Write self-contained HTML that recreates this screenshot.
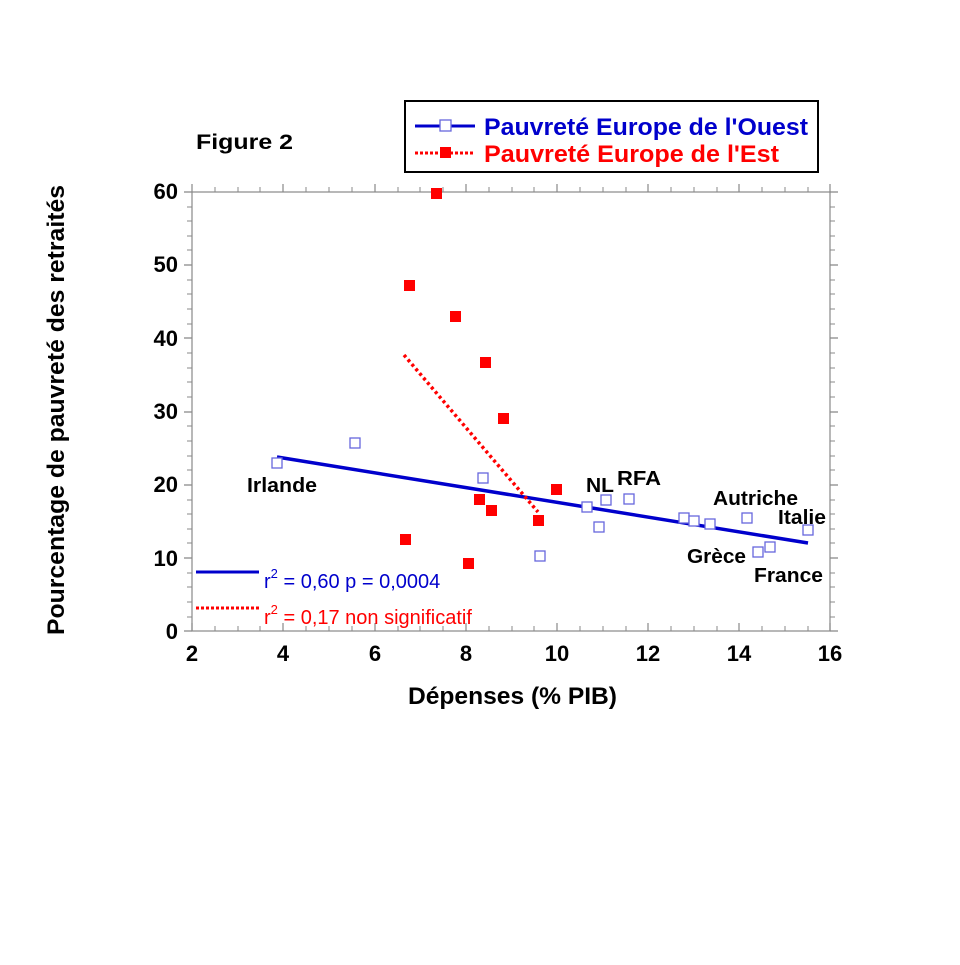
<!DOCTYPE html>
<html><head><meta charset="utf-8"><style>body{margin:0;background:#fff}</style></head><body>
<svg width="960" height="960" xmlns="http://www.w3.org/2000/svg" font-family="Liberation Sans, sans-serif">
<rect width="960" height="960" fill="#fff"/>
<g stroke="#888" stroke-width="1.2" fill="none">
<rect x="192" y="192" width="638" height="439"/>
<path d="M192,192V184M283,192V184M375,192V184M466,192V184M557,192V184M648,192V184M739,192V184M830,192V184
M192,631V623M283,631V623M375,631V623M466,631V623M557,631V623M648,631V623M739,631V623M830,631V623
M192,192H184M192,265H184M192,338H184M192,412H184M192,485H184M192,558H184M192,631H184
M830,192H838M830,265H838M830,338H838M830,412H838M830,485H838M830,558H838M830,631H838"/>
<path stroke-width="1" d="M215,192v-5M238,192v-5M260,192v-5M306,192v-5M329,192v-5M352,192v-5M398,192v-5M420,192v-5M443,192v-5M489,192v-5M512,192v-5M534,192v-5M580,192v-5M603,192v-5M626,192v-5M671,192v-5M694,192v-5M717,192v-5M762,192v-5M785,192v-5M808,192v-5
M215,631v-5M238,631v-5M260,631v-5M306,631v-5M329,631v-5M352,631v-5M398,631v-5M420,631v-5M443,631v-5M489,631v-5M512,631v-5M534,631v-5M580,631v-5M603,631v-5M626,631v-5M671,631v-5M694,631v-5M717,631v-5M762,631v-5M785,631v-5M808,631v-5"/>
<path stroke-width="1" d="M192,207h-5M192,221h-5M192,236h-5M192,250h-5M192,280h-5M192,294h-5M192,309h-5M192,324h-5M192,353h-5M192,368h-5M192,382h-5M192,397h-5M192,426h-5M192,441h-5M192,456h-5M192,470h-5M192,500h-5M192,514h-5M192,529h-5M192,543h-5M192,573h-5M192,587h-5M192,602h-5M192,617h-5
M830,207h5M830,221h5M830,236h5M830,250h5M830,280h5M830,294h5M830,309h5M830,324h5M830,353h5M830,368h5M830,382h5M830,397h5M830,426h5M830,441h5M830,456h5M830,470h5M830,500h5M830,514h5M830,529h5M830,543h5M830,573h5M830,587h5M830,602h5M830,617h5"/>
</g>
<g font-weight="bold" font-size="22" fill="#000" text-anchor="middle">
<text x="192" y="661">2</text><text x="283" y="661">4</text><text x="375" y="661">6</text><text x="466" y="661">8</text><text x="557" y="661">10</text><text x="648" y="661">12</text><text x="739" y="661">14</text><text x="830" y="661">16</text>
</g>
<g font-weight="bold" font-size="22" fill="#000" text-anchor="end">
<text x="178" y="199">60</text><text x="178" y="272">50</text><text x="178" y="346">40</text><text x="178" y="419">30</text><text x="178" y="492">20</text><text x="178" y="566">10</text><text x="178" y="639">0</text>
</g>
<text x="408" y="704" font-weight="bold" font-size="24" textLength="209" lengthAdjust="spacingAndGlyphs">Dépenses (% PIB)</text>
<text transform="translate(64,635) rotate(-90)" font-weight="bold" font-size="24.5" textLength="450" lengthAdjust="spacingAndGlyphs">Pourcentage de pauvreté des retraités</text>
<text x="196" y="149" font-weight="bold" font-size="21" textLength="97" lengthAdjust="spacingAndGlyphs">Figure 2</text>
<rect x="405" y="101" width="413" height="71" fill="#fff" stroke="#000" stroke-width="2"/>
<line x1="415" y1="126" x2="475" y2="126" stroke="#0000cc" stroke-width="3"/>
<rect x="440" y="120" width="11" height="11" fill="#fff" stroke="#6666dd" stroke-width="1.3"/>
<text x="484" y="135" font-weight="bold" font-size="24" fill="#0000cc" textLength="324" lengthAdjust="spacingAndGlyphs">Pauvreté Europe de l'Ouest</text>
<line x1="415" y1="153" x2="475" y2="153" stroke="#ff0000" stroke-width="3" stroke-dasharray="3,2"/>
<rect x="440" y="147" width="11" height="11" fill="#ff0000"/>
<text x="484" y="162" font-weight="bold" font-size="24" fill="#ff0000" textLength="295" lengthAdjust="spacingAndGlyphs">Pauvreté Europe de l'Est</text>
<line x1="277" y1="457" x2="808" y2="543" stroke="#0000cc" stroke-width="3.5"/>
<line x1="404" y1="355" x2="538" y2="512" stroke="#ff0000" stroke-width="3.5" stroke-dasharray="3,3"/>
<g fill="#fff" stroke="#6666dd" stroke-width="1.3">
<rect x="272" y="458" width="10" height="10"/><rect x="350" y="438" width="10" height="10"/><rect x="478" y="473" width="10" height="10"/><rect x="535" y="551" width="10" height="10"/><rect x="582" y="502" width="10" height="10"/><rect x="594" y="522" width="10" height="10"/><rect x="601" y="495" width="10" height="10"/><rect x="624" y="494" width="10" height="10"/><rect x="679" y="513" width="10" height="10"/><rect x="689" y="516" width="10" height="10"/><rect x="705" y="519" width="10" height="10"/><rect x="742" y="513" width="10" height="10"/><rect x="753" y="547" width="10" height="10"/><rect x="765" y="542" width="10" height="10"/><rect x="803" y="525" width="10" height="10"/>
</g>
<g fill="#ff0000">
<rect x="431" y="188" width="11" height="11"/><rect x="404" y="280" width="11" height="11"/><rect x="450" y="311" width="11" height="11"/><rect x="480" y="357" width="11" height="11"/><rect x="498" y="413" width="11" height="11"/><rect x="551" y="484" width="11" height="11"/><rect x="474" y="494" width="11" height="11"/><rect x="486" y="505" width="11" height="11"/><rect x="400" y="534" width="11" height="11"/><rect x="463" y="558" width="11" height="11"/><rect x="533" y="515" width="11" height="11"/>
</g>
<g font-weight="bold" font-size="20" fill="#000">
<text x="247" y="492" textLength="70" lengthAdjust="spacingAndGlyphs">Irlande</text><text x="586" y="492" textLength="28" lengthAdjust="spacingAndGlyphs">NL</text><text x="617" y="485" textLength="44" lengthAdjust="spacingAndGlyphs">RFA</text><text x="713" y="505" textLength="85" lengthAdjust="spacingAndGlyphs">Autriche</text><text x="778" y="524" textLength="48" lengthAdjust="spacingAndGlyphs">Italie</text><text x="687" y="563" textLength="59" lengthAdjust="spacingAndGlyphs">Grèce</text><text x="754" y="582" textLength="69" lengthAdjust="spacingAndGlyphs">France</text>
</g>
<line x1="196" y1="572" x2="259" y2="572" stroke="#0000cc" stroke-width="3"/>
<text x="264" y="588" font-size="20" fill="#0000cc">r<tspan dy="-10" font-size="13">2</tspan><tspan dy="10"> = 0,60 p = 0,0004</tspan></text>
<line x1="196" y1="608" x2="259" y2="608" stroke="#ff0000" stroke-width="3" stroke-dasharray="3,2"/>
<text x="264" y="624" font-size="20" fill="#ff0000">r<tspan dy="-10" font-size="13">2</tspan><tspan dy="10"> = 0,17 non significatif</tspan></text>
</svg>
</body></html>
